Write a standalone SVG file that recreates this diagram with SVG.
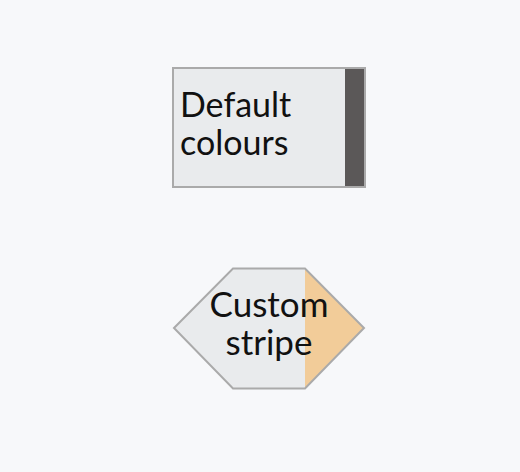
<svg xmlns="http://www.w3.org/2000/svg" width="520" height="472" viewBox="0 0 520 472">
<style>
.frame{fill:#e9ebed;stroke:#aaaaaa;stroke-width:2}
.lbl{font-family:Lato,"Open Sans","Liberation Sans",sans-serif;font-size:34px;fill:#111}
</style>
<rect width="520" height="472" fill="#f7f8fa"/>
<g id="connectors"/>
<g id="node-default">
<rect class="frame" x="173" y="68" width="192" height="119"/>
<rect x="345" y="69" width="19" height="117" fill="#5b5858"/>
<text class="lbl" x="180" y="117">Default</text>
<text class="lbl" x="180" y="155">colours</text>
</g>
<g id="node-custom">
<polygon points="174,328 233,269 305,269 305,388 233,388" fill="#e9ebed"/>
<polygon points="305,269 364,328 305,388" fill="#f2cc99"/>
<polygon points="174,328 233,268.5 305,268.5 364,328 305,388.5 233,388.5" fill="none" stroke="#aaaaaa" stroke-width="2"/>
<text class="lbl" x="269" y="317" text-anchor="middle" style="font-size:35px">Custom</text>
<text class="lbl" x="269" y="355" text-anchor="middle" style="font-size:35px">stripe</text>
</g>
</svg>
